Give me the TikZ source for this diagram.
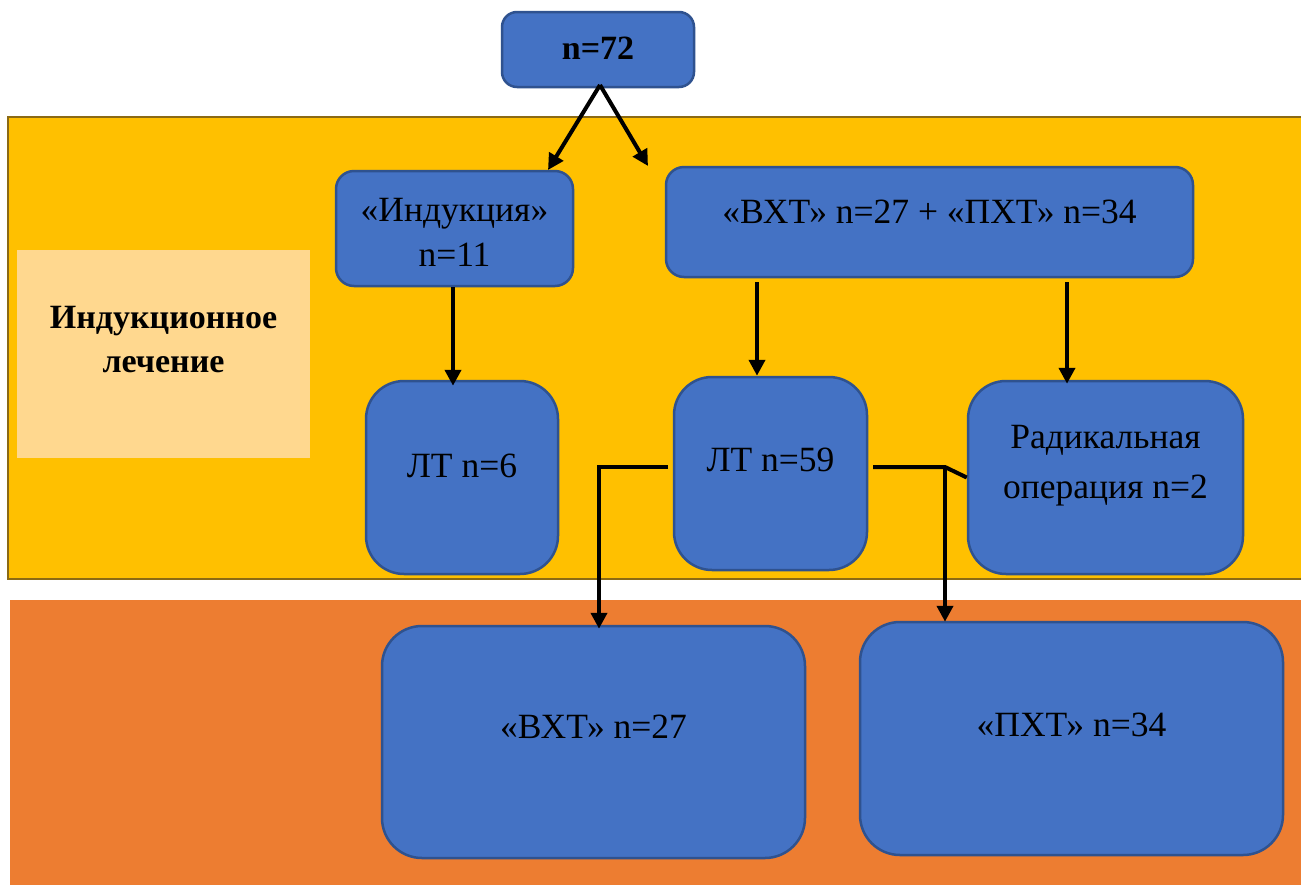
\documentclass[tikz,border=0pt]{standalone}
\usepackage{fontspec}
\setmainfont{Liberation Serif}
\usetikzlibrary{arrows.meta,calc}
\definecolor{bandyellow}{HTML}{FFC000}
\definecolor{bandedge}{HTML}{8B6A14}
\definecolor{bandorange}{HTML}{ED7D31}
\definecolor{boxblue}{HTML}{4472C4}
\definecolor{boxedge}{HTML}{2F528F}
\definecolor{tagfill}{HTML}{FFD88F}
\tikzset{
  box/.style={draw=boxedge, fill=boxblue, line width=2.5pt, rounded corners=#1,
    inner sep=0pt},
  box/.default=18pt,
  txt/.style={align=center, inner sep=0pt, text=black,
    font=\fontsize{35.5}{45}\selectfont},
  arr/.style={line width=4pt, -{Triangle[length=16pt,width=16pt]}},
  con/.style={line width=4pt},
}
\begin{document}
\begin{tikzpicture}[x=1pt,y=-1pt]
\useasboundingbox (0,0) rectangle (1301,884);
\clip (0,0) rectangle (1301,884);

% background bands
\fill[white] (0,0) rectangle (1301,884);
\draw[fill=bandyellow, draw=bandedge, line width=2pt] (8,117) rectangle (1320,579);
\fill[bandorange] (10,600) rectangle (1320,900);

% stage label
\node[fill=tagfill, minimum width=293pt, minimum height=208pt, inner sep=0pt]
  (stage) at (163.5,354) {};
\node[txt, font=\fontsize{34}{44}\selectfont\bfseries] (stage-t) at (163.5,340)
  {Индукционное\\лечение};

% boxes
\node[box=15pt, minimum width=192pt, minimum height=75pt,
  label={[txt, name=n72-t, font=\fontsize{34}{44}\selectfont\bfseries, yshift=1pt]center:n=72}]
  (n72) at (598,49.5) {};
\node[box=18pt, minimum width=237pt, minimum height=115pt,
  label={[txt, name=ind-t, yshift=-4pt]center:«Индукция»\\n=11}]
  (ind) at (454.5,228.5) {};
\node[box=18pt, minimum width=527pt, minimum height=110pt,
  label={[txt, name=both-t, yshift=10pt]center:«ВХТ» n=27 + «ПХТ» n=34}]
  (both) at (929.5,222) {};
\node[box=38pt, minimum width=192pt, minimum height=193pt,
  label={[txt, name=lt6-t, yshift=12pt]center:ЛТ n=6}]
  (lt6) at (462,477.5) {};
\node[box=38pt, minimum width=193pt, minimum height=193pt,
  label={[txt, name=lt59-t, yshift=14pt]center:ЛТ n=59}]
  (lt59) at (770.5,473.5) {};
\node[box=38pt, minimum width=275pt, minimum height=193pt,
  label={[txt, name=rad-t, yshift=12pt, font=\fontsize{35.5}{50}\selectfont]center:Радикальная\\операция n=2}]
  (rad) at (1105.5,477.5) {};
\node[box=40pt, minimum width=423pt, minimum height=232pt,
  label={[txt, name=vxt-t, yshift=15pt]center:«ВХТ» n=27}]
  (vxt) at (593.5,742) {};
\node[box=40pt, minimum width=423pt, minimum height=233pt,
  label={[txt, name=pxt-t, yshift=14pt]center:«ПХТ» n=34}]
  (pxt) at (1071.5,738.5) {};

% connector anchors
\coordinate (top) at (600,85);
\coordinate (loose) at (648,166);
\coordinate (indtip) at (548,170);
\coordinate (x757) at (757,0);
\coordinate (x1067) at (1067,0);
\coordinate (x453) at (453,0);
\coordinate (lstart) at (668,467);
\coordinate (lbend) at (599,467);
\coordinate (rstart) at (873,467);
\coordinate (rbend) at (945,467);

% connectors
\draw[arr] (top) -- (indtip);
\draw[arr] (top) -- (loose);
\draw[arr] (ind.south -| x453) -- ($(lt6.north -| x453)+(0,6)$);
\draw[arr] ($(both.south -| x757)+(0,4)$) -- (lt59.north -| x757);
\draw[arr] ($(both.south -| x1067)+(0,4)$) -- ($(rad.north -| x1067)+(0,4)$);
\draw[arr] (lstart) -- (lbend) -- ($(lbend |- vxt.north)+(0,4)$);
\draw[con] (rstart) -- (rbend) -- (rad.west);
\draw[arr] (rbend) -- ($(rbend |- pxt.north)+(0,1)$);
\end{tikzpicture}
\end{document}
